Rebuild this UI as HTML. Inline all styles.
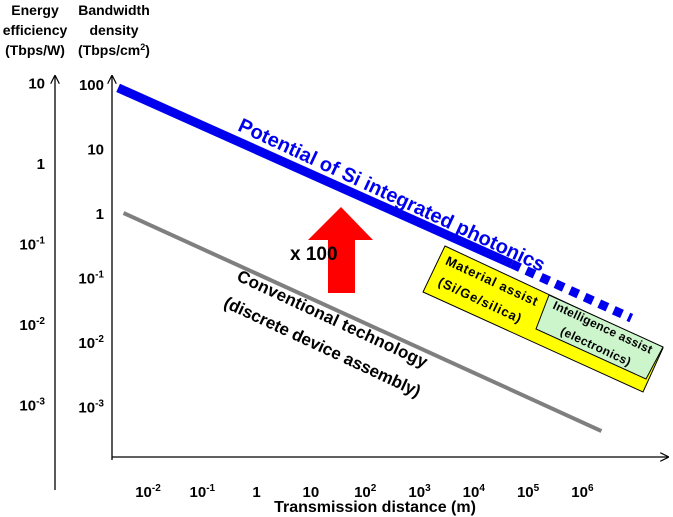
<!DOCTYPE html>
<html><head><meta charset="utf-8"><style>
html,body{margin:0;padding:0;background:#fff}
svg{display:block;font-family:"Liberation Sans",sans-serif;font-weight:bold}
</style></head><body>
<svg id="chart" width="673" height="517" viewBox="0 0 673 517" xmlns="http://www.w3.org/2000/svg">
<defs><marker id="ah" viewBox="0 0 10 10" refX="9" refY="5" markerWidth="9" markerHeight="9" orient="auto-start-reverse" markerUnits="userSpaceOnUse"><path d="M0,0 L10,5 L0,10" fill="none" stroke="#000" stroke-width="1.3"/></marker></defs>
<g font-size="14" text-anchor="middle">
<text x="35" y="15">Energy</text><text x="35" y="35">efficiency</text><text x="35" y="55">(Tbps/W)</text></g>
<g font-size="14" text-anchor="middle">
<text x="114" y="15">Bandwidth</text><text x="114" y="35">density</text><text x="114" y="55">(Tbps/cm<tspan font-size="9" dy="-5">2</tspan><tspan dy="5">)</tspan></text></g>
<line x1="55" y1="490" x2="55" y2="76" stroke="#000" stroke-width="1.3" marker-end="url(#ah)"/>
<line x1="112" y1="460" x2="112" y2="76" stroke="#000" stroke-width="1.3" marker-end="url(#ah)"/>
<line x1="112" y1="457" x2="668" y2="457" stroke="#000" stroke-width="1.3" marker-end="url(#ah)"/>
<g id="ticks" font-size="15"></g>
<text x="375" y="512" font-size="16" text-anchor="middle">Transmission distance (m)</text>
<g id="marks"></g>
<g>
<polygon points="328,293 355,293 355,240 373,240 341,207 308,240 328,240" fill="#ff0000"/>
<text x="290" y="260" font-size="19">x 100</text></g>
<g>
<polygon points="445,246 663,348 643,392 423,292" fill="#ffff00" stroke="#000" stroke-width="1"/>
<text transform="translate(490,285) rotate(25)" font-size="13" text-anchor="middle" textLength="100">Material assist</text>
<text transform="translate(478,304) rotate(25)" font-size="13" text-anchor="middle" textLength="90">(Si/Ge/silica)</text></g>
<g>
<polygon points="549,295 663,347 646,379 536,329" fill="#ccf5cc" stroke="#000" stroke-width="1"/>
<text transform="translate(601,331) rotate(25)" font-size="12" text-anchor="middle" textLength="108">Intelligence assist</text>
<text transform="translate(594,350) rotate(25)" font-size="12" text-anchor="middle" textLength="76">(electronics)</text></g>
<text transform="translate(389,201) rotate(25)" font-size="20" fill="#0000ee" text-anchor="middle" textLength="336">Potential of Si integrated photonics</text>
<g font-size="17" text-anchor="middle">
<text transform="translate(330,324) rotate(25)" textLength="208">Conventional technology</text>
<text transform="translate(320,352) rotate(25)" textLength="215">(discrete device assembly)</text></g>
</svg>
<script>
const xTickExps=[-2,-1,0,1,2,3,4,5,6];
const xTickLabels=[["10","-2"],["10","-1"],["1",""],["10",""],["10","2"],["10","3"],["10","4"],["10","5"],["10","6"]];
const bwTickExps=[2,1,0,-1,-2,-3];
const bwTickLabels=[["100",""],["10",""],["1",""],["10","-1"],["10","-2"],["10","-3"]];
const eeTickExps=[1,0,-1,-2,-3];
const eeTickLabels=[["10",""],["1",""],["10","-1"],["10","-2"],["10","-3"]];
// log10 values (x: distance m, y: bandwidth density)
const siX=[-2.55,4.7];
const siY=[1.94,-0.79];
const siDashX=[4.7,6.9];
const siDashY=[-0.79,-1.63];
const convX=[-2.45,6.35];
const convY=[0.0,-3.38];
const X=e=>148+(e+2)*54.3;
const Y=e=>213-e*64.5;
const EY=e=>163-e*80.5;
const NS="http://www.w3.org/2000/svg";
const ticks=document.getElementById('ticks');
function lab(x,y,parts,anchor){
  const t=document.createElementNS(NS,'text');
  t.setAttribute('x',x);t.setAttribute('y',y);t.setAttribute('text-anchor',anchor);
  t.appendChild(document.createTextNode(parts[0]));
  if(parts[1]){const s=document.createElementNS(NS,'tspan');s.setAttribute('font-size','10');s.setAttribute('dy','-6');s.textContent=parts[1];t.appendChild(s);}
  ticks.appendChild(t);return t;
}
xTickExps.forEach((e,i)=>{const t=lab(X(e),497,xTickLabels[i],'middle');

});
bwTickExps.forEach((e,i)=>{const t=lab(104,Y(e)+6,bwTickLabels[i],'end');

});
eeTickExps.forEach((e,i)=>{const t=lab(45,EY(e)+6,eeTickLabels[i],'end');

});
const marks=document.getElementById('marks');
function ln(xs,ys,col,w,dash){
  const l=document.createElementNS(NS,'line');
  l.setAttribute('x1',X(xs[0]));l.setAttribute('y1',Y(ys[0]));
  l.setAttribute('x2',X(xs[1]));l.setAttribute('y2',Y(ys[1]));
  l.setAttribute('stroke',col);l.setAttribute('stroke-width',w);
  if(dash)l.setAttribute('stroke-dasharray',dash);
  marks.appendChild(l);return l;
}
let a=ln(convX,convY,'#7f7f7f',4,null);


let b=ln(siX,siY,'#0000ee',9,null);


let c=ln(siDashX,siDashY,'#0000ee',9,'9,7');


</script>
</body></html>
